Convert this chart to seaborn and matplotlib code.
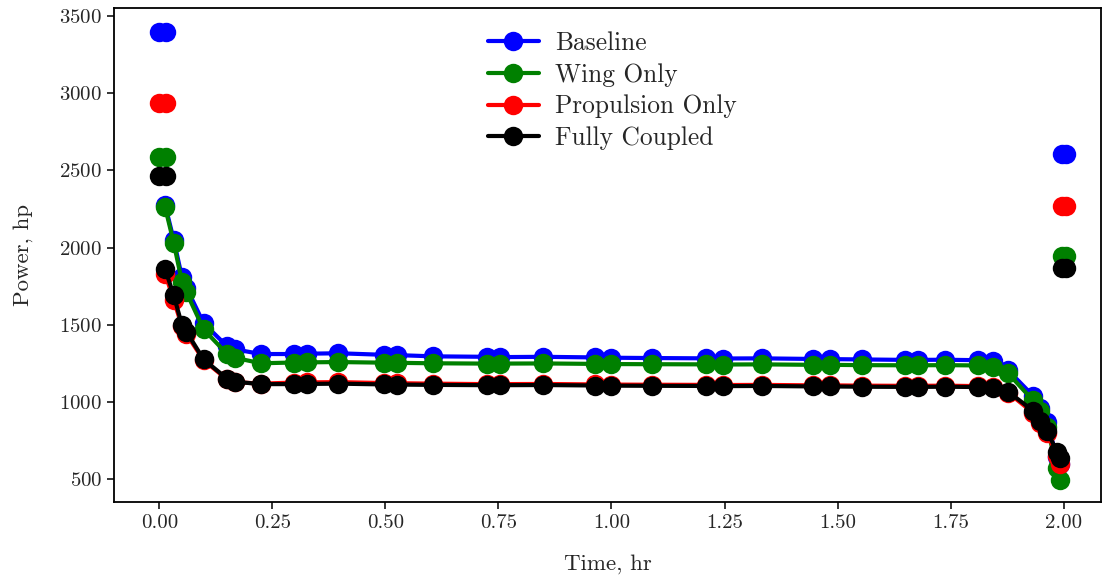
import matplotlib
matplotlib.use("Agg")
import matplotlib.pyplot as plt
import seaborn as sns

# mission time, hr
takeoff_t = [0.0, 0.015]
mission_t = [0.013, 0.032, 0.05, 0.06, 0.098, 0.15, 0.168, 0.225,
             0.297, 0.326, 0.396, 0.496, 0.525, 0.606, 0.724, 0.754, 0.849,
             0.964, 1.000, 1.089, 1.210, 1.247, 1.332, 1.446, 1.483, 1.553,
             1.649, 1.678, 1.737, 1.811, 1.844,
             1.877, 1.932, 1.947, 1.963, 1.985, 1.991]
landing_t = [1.996, 2.004]

# power, hp
baseline_takeoff = [3395, 3395]
baseline_mission = [2275, 2050, 1810, 1740, 1510, 1360, 1340, 1310,
                    1310, 1312, 1315, 1305, 1303, 1295, 1292, 1290, 1292,
                    1288, 1286, 1284, 1282, 1281, 1282, 1278, 1277, 1275,
                    1272, 1272, 1273, 1270, 1262,
                    1205, 1040, 960, 870, 640, 600]
baseline_landing = [2605, 2605]

wing_takeoff = [2590, 2590]
wing_mission = [2260, 2030, 1780, 1710, 1470, 1310, 1285, 1250,
                1255, 1256, 1258, 1254, 1253, 1250, 1248, 1248, 1249,
                1246, 1245, 1244, 1243, 1242, 1243, 1240, 1240, 1238,
                1237, 1237, 1238, 1236, 1225,
                1185, 1010, 940, 840, 570, 495]
wing_landing = [1945, 1945]

prop_takeoff = [2940, 2940]
prop_mission = [1830, 1660, 1490, 1440, 1270, 1145, 1128, 1118,
                1125, 1126, 1128, 1122, 1121, 1118, 1115, 1115, 1116,
                1113, 1112, 1111, 1110, 1109, 1110, 1107, 1107, 1105,
                1104, 1104, 1105, 1102, 1095,
                1060, 930, 865, 800, 650, 595]
prop_landing = [2272, 2272]

full_takeoff = [2465, 2465]
full_mission = [1860, 1690, 1500, 1455, 1275, 1150, 1130, 1115,
                1115, 1116, 1118, 1113, 1112, 1110, 1108, 1108, 1109,
                1106, 1105, 1104, 1103, 1102, 1103, 1100, 1100, 1098,
                1097, 1097, 1098, 1096, 1090,
                1066, 943, 877, 812, 677, 634]
full_landing = [1870, 1870]

labels = ["Baseline", "Wing Only", "Propulsion Only", "Fully Coupled"]
colors = ["blue", "green", "red", "black"]

sns.set_style("ticks")
plt.rcParams["font.family"] = ["cmr10", "DejaVu Serif"]
plt.rcParams["axes.formatter.use_mathtext"] = True
plt.rcParams["mathtext.fontset"] = "cm"

fig = plt.figure(figsize=(11.03, 5.79), dpi=100)
ax = fig.add_axes([0.1034, 0.133, 0.8946, 0.853])

series = [
    (baseline_takeoff, baseline_mission, baseline_landing),
    (wing_takeoff, wing_mission, wing_landing),
    (prop_takeoff, prop_mission, prop_landing),
    (full_takeoff, full_mission, full_landing),
]

style = dict(marker="o", markersize=14, linewidth=3, markeredgewidth=0)
for (to, mi, la), lab, col in zip(series, labels, colors):
    sns.lineplot(x=takeoff_t, y=to, color=col, ax=ax, **style)
    sns.lineplot(x=mission_t, y=mi, color=col, ax=ax, label=lab, **style)
    sns.lineplot(x=landing_t, y=la, color=col, ax=ax, **style)

ax.set_xlim(-0.1, 2.082)
ax.set_ylim(351, 3552)
ax.set_xticks([0, 0.25, 0.5, 0.75, 1.0, 1.25, 1.5, 1.75, 2.0])
ax.set_xticklabels(["0.00", "0.25", "0.50", "0.75", "1.00", "1.25", "1.50", "1.75", "2.00"])
ax.set_yticks([500, 1000, 1500, 2000, 2500, 3000, 3500])
ax.tick_params(labelsize=15, width=1.3, length=5)
for sp in ax.spines.values():
    sp.set_linewidth(1.3)
    sp.set_color("black")

ax.set_xlabel("Time, hr", fontsize=16.5, labelpad=16)
ax.set_ylabel("Power, hp", fontsize=16.5, labelpad=19)
ax.legend(loc="upper center", frameon=False, fontsize=18.3, handlelength=2.0,
          labelspacing=0.32, handletextpad=0.65, bbox_to_anchor=(0.505, 1.0))

fig.savefig("out.png", dpi=100)
